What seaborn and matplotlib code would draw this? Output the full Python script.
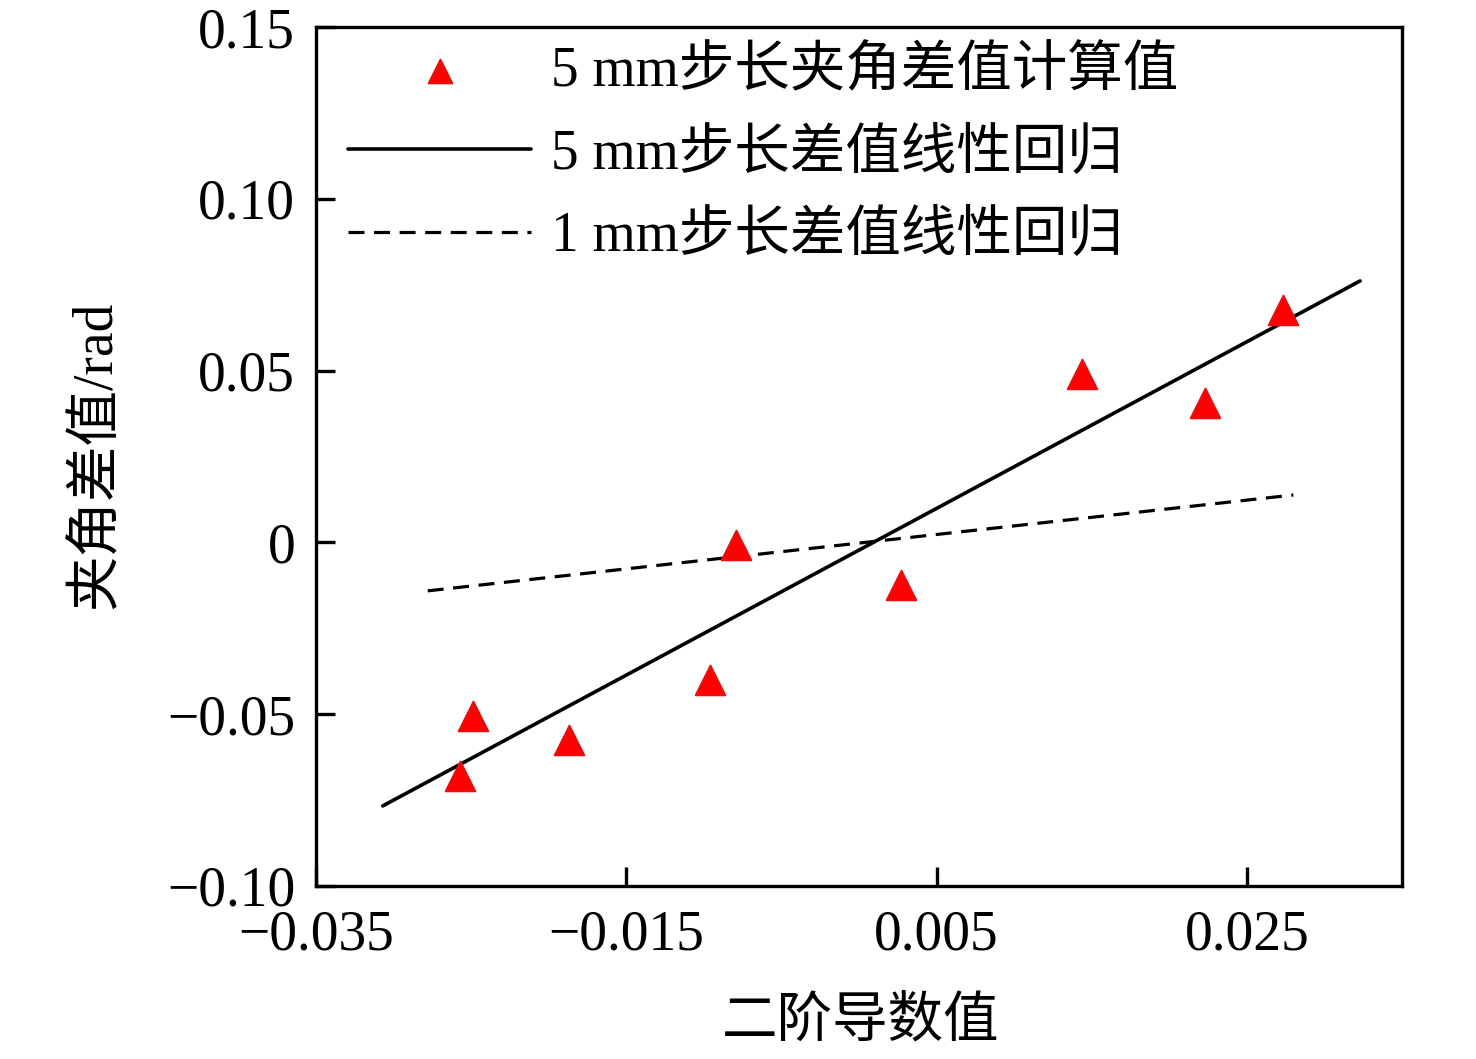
import matplotlib
matplotlib.use("Agg")
import matplotlib.pyplot as plt
import seaborn as sns
import pandas as pd

# data
x_pts = [-0.0257, -0.0249, -0.0187, -0.0096, -0.0079, 0.0027, 0.0144, 0.0223, 0.0273]
y_pts = [-0.068, -0.0505, -0.0575, -0.040, -0.0008, -0.0124, 0.049, 0.0406, 0.0676]
fit5_x = [-0.0307, 0.0323]
fit5_y = [-0.0767, 0.0761]
fit1_x = [-0.0278, 0.0280]
fit1_y = [-0.0141, 0.0138]
x_ticks = [-0.035, -0.015, 0.005, 0.025]
x_ticklabels = ["\u22120.035", "\u22120.015", "0.005", "0.025"]
y_ticks = [-0.10, -0.05, 0.0, 0.05, 0.10, 0.15]
y_ticklabels = ["\u22120.10", "\u22120.05", "0", "0.05", "0.10", "0.15"]
lab_pts = "5 mm步长夹角差值计算值"
lab_fit5 = "5 mm步长差值线性回归"
lab_fit1 = "1 mm步长差值线性回归"
xlabel = "二阶导数值"
ylabel = "夹角差值/rad"

sns.set_theme(style="ticks")
plt.rcParams['font.family'] = ['Liberation Serif', 'Noto Sans CJK SC', 'DejaVu Sans']
plt.rcParams['axes.unicode_minus'] = True

fig = plt.figure(figsize=(14.76, 10.59), dpi=100)
ax = fig.add_axes([316/1476, 1-886/1059, (1402-316)/1476, (886-27)/1059])

df_pts = pd.DataFrame({"x": x_pts, "y": y_pts})
sns.scatterplot(data=df_pts, x="x", y="y", ax=ax, marker="^", s=450,
                color="#ff0000", edgecolor="#e81010", linewidth=1.5, label=lab_pts, zorder=3)
sns.lineplot(x=fit5_x, y=fit5_y, ax=ax, color="black", linewidth=2.6, label=lab_fit5, zorder=2)
sns.lineplot(x=fit1_x, y=fit1_y, ax=ax, color="black", linewidth=2.3, linestyle=(0, (5.0, 3.0)),
             label=lab_fit1, zorder=2)

ax.set_xlim(-0.035, 0.035)
ax.set_ylim(-0.10, 0.15)
ax.set_xticks(x_ticks)
ax.set_xticklabels(x_ticklabels)
ax.set_yticks(y_ticks)
ax.set_yticklabels(y_ticklabels)
ax.tick_params(direction="in", length=14, width=2.4, labelsize=40, colors="black")
ax.tick_params(axis="x", pad=17)
ax.tick_params(axis="y", pad=15)
for s in ax.spines.values():
    s.set_linewidth(2.4)
    s.set_color("black")
    s.set_visible(True)

ax.set_xlabel(xlabel, fontsize=40, color="black")
ax.set_ylabel(ylabel, fontsize=40, color="black")
ax.xaxis.set_label_coords(0.501, -0.128)
ax.yaxis.set_label_coords(-0.178, 0.502)

leg = ax.legend(loc="upper left", bbox_to_anchor=(0.0295, 0.978), frameon=False,
                fontsize=40, handlelength=3.3, handletextpad=0.36, labelspacing=0.55,
                borderpad=0, borderaxespad=0, markerscale=0.8)
for t in leg.get_texts():
    t.set_color("black")

fig.savefig("out.png", dpi=100)
